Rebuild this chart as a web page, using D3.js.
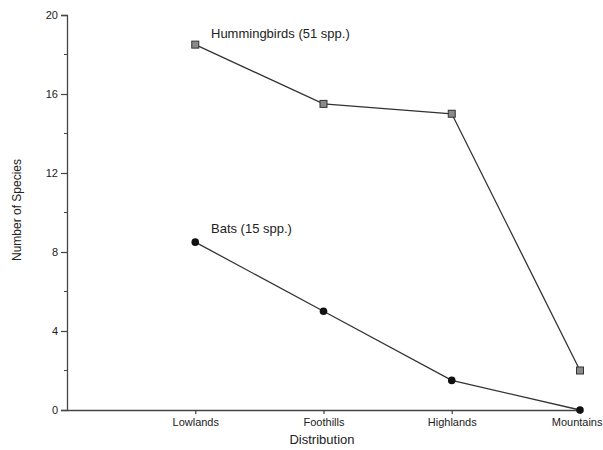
<!DOCTYPE html>
<html><head><meta charset="utf-8">
<script src="https://cdn.jsdelivr.net/npm/d3@7"></script>
<style>body{margin:0;background:#fff}</style>
</head><body>
<svg id="c" width="603" height="450"></svg>
<script>
const categories = ["Lowlands", "Foothills", "Highlands", "Mountains"];
const hummingbirds = [18.5, 15.5, 15.0, 2.0];
const bats = [8.5, 5.0, 1.5, 0.0];
const yTicks = [0, 4, 8, 12, 16, 20];
const yMinor = [2, 6, 10, 14, 18];
const seriesLabels = ["Hummingbirds (51 spp.)", "Bats (15 spp.)"];

const svg = d3.select("#c");
const font = "Liberation Sans, Arial, sans-serif";
const ax = "#444";
const x = d3.scaleLinear().domain([0, 4]).range([67, 580]);
const y = d3.scaleLinear().domain([0, 20]).range([410, 15]);

// y axis
const yAxis = svg.append("g").attr("transform", "translate(67,0)")
  .call(d3.axisLeft(y).tickValues(yTicks).tickSize(6).tickPadding(3));
yAxis.select(".domain").attr("stroke", ax).attr("stroke-width", 1.3);
yAxis.selectAll(".tick line").attr("stroke", ax).attr("stroke-width", 1.2);
yAxis.selectAll("text").attr("font-family", font).attr("font-size", 11).attr("fill", "#222");
svg.append("g").selectAll("line").data(yMinor).join("line")
  .attr("x1", 64).attr("x2", 67).attr("y1", d => y(d)).attr("y2", d => y(d))
  .attr("stroke", ax).attr("stroke-width", 1);

// x axis
const xAxis = svg.append("g").attr("transform", "translate(0,410)")
  .call(d3.axisBottom(x).tickValues([1, 2, 3, 4]).tickFormat(d => categories[d - 1]).tickSize(4).tickPadding(4).tickSizeOuter(0));
xAxis.select(".domain").attr("stroke", ax).attr("stroke-width", 1.3);
xAxis.selectAll(".tick line").attr("stroke", ax).attr("stroke-width", 1.2);
xAxis.selectAll("text").attr("font-family", font).attr("font-size", 11).attr("fill", "#222");
// keep the last label inside the page
xAxis.selectAll(".tick").filter(d => d === 4).select("text").attr("text-anchor", "end").attr("dx", 22);

// axis titles
svg.append("text").attr("x", 322).attr("y", 444).attr("text-anchor", "middle")
  .attr("font-family", font).attr("font-size", 13).attr("fill", "#222").text("Distribution");
svg.append("text").attr("transform", "translate(21,210) rotate(-90)").attr("text-anchor", "middle")
  .attr("font-family", font).attr("font-size", 12).attr("fill", "#222").text("Number of Species");

const line = d3.line().x((d, i) => x(i + 1)).y(d => y(d));

// hummingbirds
svg.append("path").datum(hummingbirds).attr("d", line).attr("fill", "none")
  .attr("stroke", "#333").attr("stroke-width", 1.3);
svg.append("g").selectAll("rect").data(hummingbirds).join("rect")
  .attr("x", (d, i) => x(i + 1) - 3.5).attr("y", d => y(d) - 3.5)
  .attr("width", 7).attr("height", 7).attr("fill", "#8a8a8a").attr("stroke", "#333").attr("stroke-width", 1);

// bats
svg.append("path").datum(bats).attr("d", line).attr("fill", "none")
  .attr("stroke", "#333").attr("stroke-width", 1.3);
svg.append("g").selectAll("circle").data(bats).join("circle")
  .attr("cx", (d, i) => x(i + 1)).attr("cy", d => y(d)).attr("r", 3.8).attr("fill", "#111");

// series labels
svg.append("text").attr("x", 211).attr("y", 38).attr("font-family", font).attr("font-size", 13)
  .attr("fill", "#222").text(seriesLabels[0]);
svg.append("text").attr("x", 211).attr("y", 233).attr("font-family", font).attr("font-size", 13)
  .attr("fill", "#222").text(seriesLabels[1]);
</script>
</body></html>
